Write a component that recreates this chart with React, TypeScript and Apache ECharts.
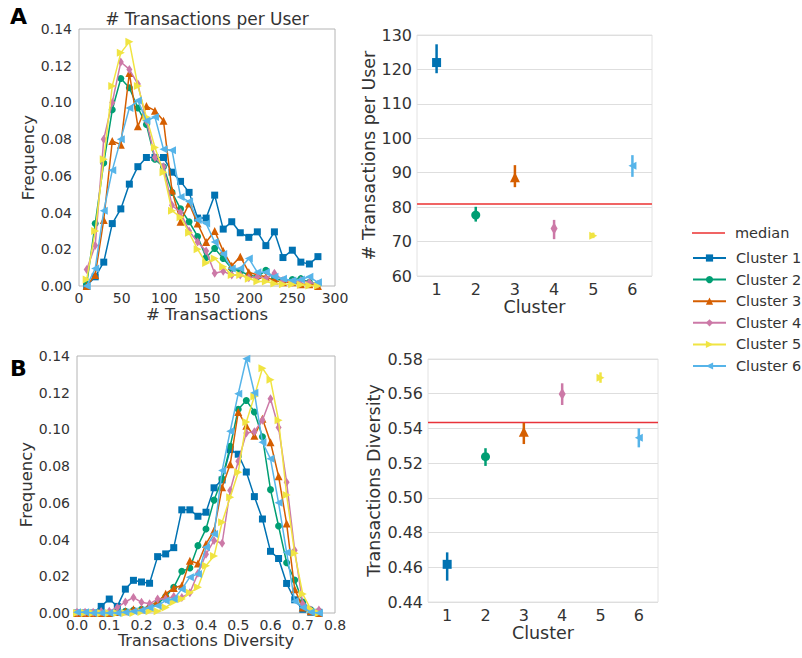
import React, { useEffect, useRef } from 'react';
import * as echarts from 'echarts';

const clusterNames = ['Cluster 1', 'Cluster 2', 'Cluster 3', 'Cluster 4', 'Cluster 5', 'Cluster 6'];
const clusterColors = ['#0072B2', '#009E73', '#D55E00', '#CC79A7', '#F0E442', '#56B4E9'];
const RIGHT_TRI = 'path://M0,0L10,5L0,10Z';
const LEFT_TRI = 'path://M10,0L0,5L10,10Z';
const clusterSymbols = ['rect', 'circle', 'triangle', 'diamond', RIGHT_TRI, LEFT_TRI];
const lineSymbolSizes: any[] = [7, 7, 8, [6, 9], 8, 8];
const pointSymbolSizes: any[] = [9, 9, 10, [7, 12], 8, 8];

// Panel A (left): # transactions histogram
const txBins = [9, 19, 29, 39, 49, 59, 69, 79, 89, 99, 109, 119, 129, 139, 149, 159, 169, 179, 189, 199, 209, 219, 229, 239, 250, 260, 270, 280];
const txFreq1 = [0.000, 0.005, 0.013, 0.034, 0.042, 0.0555, 0.065, 0.070, 0.070, 0.070, 0.062, 0.057, 0.051, 0.037, 0.037, 0.0495, 0.031, 0.035, 0.029, 0.0265, 0.0295, 0.022, 0.0295, 0.0155, 0.0195, 0.013, 0.012, 0.016];
const txFreq2 = [0.001, 0.034, 0.067, 0.096, 0.113, 0.108, 0.097, 0.088, 0.069, 0.065, 0.051, 0.042, 0.035, 0.027, 0.0155, 0.0205, 0.015, 0.0095, 0.008, 0.006, 0.005, 0.0085, 0.004, 0.003, 0.0035, 0.004, 0.002, 0.001];
const txFreq3 = [0.000, 0.006, 0.036, 0.079, 0.077, 0.116, 0.087, 0.098, 0.0955, 0.090, 0.052, 0.035, 0.045, 0.034, 0.024, 0.030, 0.019, 0.011, 0.016, 0.0075, 0.006, 0.005, 0.003, 0.002, 0.002, 0.001, 0.001, 0.000];
const txFreq4 = [0.009, 0.022, 0.080, 0.100, 0.122, 0.118, 0.110, 0.090, 0.070, 0.065, 0.044, 0.040, 0.030, 0.024, 0.019, 0.007, 0.008, 0.006, 0.006, 0.0045, 0.005, 0.004, 0.007, 0.003, 0.002, 0.003, 0.002, 0.001];
const txFreq5 = [0.0035, 0.030, 0.069, 0.109, 0.127, 0.133, 0.109, 0.092, 0.0755, 0.062, 0.041, 0.0375, 0.029, 0.020, 0.0125, 0.015, 0.0105, 0.006, 0.006, 0.004, 0.0025, 0.0025, 0.0013, 0.001, 0.001, 0.0007, 0.0003, 0.0002];
const txFreq6 = [0.000, 0.0095, 0.041, 0.063, 0.080, 0.097, 0.101, 0.090, 0.092, 0.0745, 0.074, 0.0485, 0.046, 0.036, 0.034, 0.024, 0.0175, 0.0095, 0.0095, 0.015, 0.0075, 0.0075, 0.005, 0.004, 0.003, 0.0035, 0.005, 0.002];

// Panel B (left): transactions diversity histogram
const divBins = [0, 0.025, 0.05, 0.075, 0.1, 0.125, 0.15, 0.175, 0.2, 0.225, 0.25, 0.275, 0.3, 0.325, 0.35, 0.375, 0.4, 0.425, 0.45, 0.475, 0.5, 0.525, 0.55, 0.575, 0.6, 0.625, 0.65, 0.675, 0.7, 0.725, 0.75];
const divFreq1 = [0, 0, 0, 0.0036, 0.0076, 0.0036, 0.013, 0.0178, 0.0169, 0.0162, 0.0307, 0.0322, 0.0356, 0.0562, 0.0562, 0.0527, 0.0549, 0.0682, 0.0725, 0.089, 0.0865, 0.0768, 0.0634, 0.0512, 0.0336, 0.0297, 0.0161, 0.0072, 0.002, 0.0004, 0.0004];
const divFreq2 = [0, 0, 0, 0, 0, 0.0005, 0.001, 0.0015, 0.002, 0.003, 0.005, 0.009, 0.014, 0.0227, 0.0245, 0.0367, 0.0458, 0.0615, 0.073, 0.0908, 0.111, 0.1158, 0.1095, 0.096, 0.0672, 0.0474, 0.0274, 0.018, 0.006, 0.0017, 0.0008];
const divFreq3 = [0, 0, 0, 0, 0, 0.0005, 0.001, 0.002, 0.002, 0.004, 0.006, 0.0105, 0.0136, 0.015, 0.0285, 0.027, 0.0376, 0.045, 0.0685, 0.081, 0.1095, 0.102, 0.0965, 0.1058, 0.093, 0.0745, 0.0487, 0.013, 0.003, 0.001, 0];
const divFreq4 = [0.0004, 0.0004, 0.0004, 0.0008, 0.001, 0.003, 0.006, 0.0085, 0.0058, 0.005, 0.0076, 0.0076, 0.009, 0.0085, 0.011, 0.0216, 0.032, 0.0395, 0.038, 0.0667, 0.0827, 0.098, 0.0988, 0.105, 0.1167, 0.101, 0.0712, 0.0342, 0.005, 0.0016, 0.0016];
const divFreq5 = [0, 0, 0, 0, 0, 0, 0, 0, 0.0005, 0.001, 0.001, 0.003, 0.006, 0.0076, 0.011, 0.014, 0.0258, 0.031, 0.0495, 0.063, 0.0767, 0.104, 0.118, 0.1333, 0.127, 0.105, 0.0643, 0.0325, 0.0103, 0.002, 0];
const divFreq6 = [0.0004, 0.0004, 0, 0, 0, 0, 0.0004, 0.001, 0.0015, 0.003, 0.004, 0.0067, 0.0076, 0.013, 0.0195, 0.0213, 0.0358, 0.043, 0.0776, 0.099, 0.1195, 0.1385, 0.12, 0.093, 0.084, 0.060, 0.033, 0.0064, 0.003, 0.0004, 0];

// Right panels: cluster means with error bars
const clusterLabels = ['1', '2', '3', '4', '5', '6'];
const txMean = [122.0, 77.7, 88.7, 73.8, 71.7, 92.0];
const txLow = [118.9, 75.8, 85.8, 70.7, 71.0, 88.8];
const txHigh = [127.3, 80.1, 92.2, 76.3, 72.6, 95.1];
const txMedian = 81;
const divMean = [0.4617, 0.5237, 0.5381, 0.5598, 0.5692, 0.5347];
const divLow = [0.4523, 0.5184, 0.5310, 0.5535, 0.5663, 0.5291];
const divHigh = [0.4686, 0.5286, 0.5433, 0.5660, 0.5723, 0.5400];
const divMedian = 0.5435;

const FONT = 'DejaVu Sans';
const TXT = '#333333';

export default function App() {
  const ref = useRef<HTMLDivElement>(null);
  useEffect(() => {
    if (!ref.current) return;
    const chart = echarts.init(ref.current, undefined, { renderer: 'svg' });
    const txFreqs = [txFreq1, txFreq2, txFreq3, txFreq4, txFreq5, txFreq6];
    const divFreqs = [divFreq1, divFreq2, divFreq3, divFreq4, divFreq5, divFreq6];

    const lineSeries = (freqs: number[][], bins: number[], axisIdx: number) =>
      freqs.map((f, k) => ({
        name: clusterNames[k],
        type: 'line',
        xAxisIndex: axisIdx,
        yAxisIndex: axisIdx,
        data: bins.map((x, i) => [x, f[i]]),
        symbol: clusterSymbols[k],
        symbolSize: lineSymbolSizes[k],
        showAllSymbol: true,
        color: clusterColors[k],
        itemStyle: { color: clusterColors[k] },
        lineStyle: { color: clusterColors[k], width: 1.5 },
        silent: true,
        z: 2 + k,
      }));

    const errorSeries = (low: number[], high: number[], axisIdx: number) => ({
      name: 'err' + axisIdx,
      type: 'custom',
      xAxisIndex: axisIdx,
      yAxisIndex: axisIdx,
      data: low.map((l, i) => [i, l, high[i]]),
      encode: { x: 0, y: [1, 2] },
      silent: true,
      z: 3,
      renderItem: (params: any, api: any) => {
        const i = api.value(0);
        const p1 = api.coord([i, api.value(1)]);
        const p2 = api.coord([i, api.value(2)]);
        return {
          type: 'line',
          shape: { x1: p1[0], y1: p1[1], x2: p2[0], y2: p2[1] },
          style: { stroke: clusterColors[params.dataIndex], lineWidth: 2.5 },
        };
      },
    });

    const meanSeries = (mean: number[], axisIdx: number, median: number, mColor: string, mWidth: number) => ({
      name: 'mean' + axisIdx,
      type: 'scatter',
      xAxisIndex: axisIdx,
      yAxisIndex: axisIdx,
      silent: true,
      z: 4,
      data: mean.map((v, i) => ({
        value: [i, v],
        symbol: clusterSymbols[i],
        symbolSize: pointSymbolSizes[i],
        itemStyle: { color: clusterColors[i], opacity: 1 },
      })),
      markLine: {
        silent: true,
        symbol: 'none',
        precision: 6,
        label: { show: false },
        lineStyle: { color: mColor, width: mWidth, type: 'solid' },
        data: [{ yAxis: median }],
        z: 2,
      },
    });

    const leftY = (idx: number) => ({
      type: 'value', gridIndex: idx, min: 0, max: 0.14, interval: 0.02,
      name: 'Frequency', nameLocation: 'middle', nameGap: idx === 0 ? 40 : 38,
      nameTextStyle: { fontFamily: FONT, fontSize: 16.5, color: TXT },
      axisLine: { show: false }, axisTick: { show: false }, splitLine: { show: false },
      axisLabel: { fontFamily: FONT, fontSize: 14, color: TXT, margin: 7, formatter: (v: number) => v.toFixed(2) },
    });

    const option: any = {
      animation: false,
      backgroundColor: '#ffffff',
      grid: [
        { left: 79, top: 29, width: 256, height: 257, show: true, borderColor: '#b4b4b4', borderWidth: 1 },
        { left: 417, top: 35, width: 235, height: 241, show: true, borderColor: '#e2e2e2', borderWidth: 1 },
        { left: 77, top: 356, width: 258, height: 257, show: true, borderColor: '#b4b4b4', borderWidth: 1 },
        { left: 428, top: 359, width: 230, height: 243, show: true, borderColor: '#e2e2e2', borderWidth: 1 },
      ],
      xAxis: [
        {
          type: 'value', gridIndex: 0, min: 0, max: 300, interval: 50,
          name: '# Transactions', nameLocation: 'middle', nameGap: 18,
          nameTextStyle: { fontFamily: FONT, fontSize: 16.5, color: TXT },
          axisLine: { show: false }, axisTick: { show: false }, splitLine: { show: false },
          axisLabel: { fontFamily: FONT, fontSize: 14, color: TXT, margin: 5 },
        },
        {
          type: 'category', gridIndex: 1, data: clusterLabels, boundaryGap: true,
          name: 'Cluster', nameLocation: 'middle', nameGap: 22,
          nameTextStyle: { fontFamily: FONT, fontSize: 17.5, color: TXT },
          axisLine: { show: false }, axisTick: { show: false }, splitLine: { show: false },
          axisLabel: { fontFamily: FONT, fontSize: 16, color: TXT, margin: 5 },
        },
        {
          type: 'value', gridIndex: 2, min: 0, max: 0.8, interval: 0.1,
          name: 'Transactions Diversity', nameLocation: 'middle', nameGap: 19,
          nameTextStyle: { fontFamily: FONT, fontSize: 16, color: TXT },
          axisLine: { show: false }, axisTick: { show: false }, splitLine: { show: false },
          axisLabel: { fontFamily: FONT, fontSize: 14, color: TXT, margin: 5, formatter: (v: number) => v.toFixed(1) },
        },
        {
          type: 'category', gridIndex: 3, data: clusterLabels, boundaryGap: true,
          name: 'Cluster', nameLocation: 'middle', nameGap: 22,
          nameTextStyle: { fontFamily: FONT, fontSize: 17.5, color: TXT },
          axisLine: { show: false }, axisTick: { show: false }, splitLine: { show: false },
          axisLabel: { fontFamily: FONT, fontSize: 16, color: TXT, margin: 5 },
        },
      ],
      yAxis: [
        leftY(0),
        {
          type: 'value', gridIndex: 1, min: 60, max: 130, interval: 10,
          name: '# Transactions per User', nameLocation: 'middle', nameGap: 39,
          nameTextStyle: { fontFamily: FONT, fontSize: 17.5, color: TXT },
          axisLine: { show: false }, axisTick: { show: false },
          splitLine: { show: true, lineStyle: { color: '#dedede', width: 1 } },
          axisLabel: { fontFamily: FONT, fontSize: 16, color: TXT, margin: 5 },
        },
        leftY(2),
        {
          type: 'value', gridIndex: 3, min: 0.44, max: 0.58, interval: 0.02,
          name: 'Transactions Diversity', nameLocation: 'middle', nameGap: 43,
          nameTextStyle: { fontFamily: FONT, fontSize: 17.5, color: TXT },
          axisLine: { show: false }, axisTick: { show: false },
          splitLine: { show: true, lineStyle: { color: '#dedede', width: 1 } },
          axisLabel: { fontFamily: FONT, fontSize: 16, color: TXT, margin: 5, formatter: (v: number) => v.toFixed(2) },
        },
      ],
      legend: [
        {
          data: ['median'], left: 692, top: 225, orient: 'vertical', padding: 0,
          icon: 'rect', itemWidth: 33, itemHeight: 2, selectedMode: false,
          textStyle: { fontFamily: FONT, fontSize: 14.5, color: TXT, lineHeight: 16, padding: [0, 0, 0, 5] },
        },
        {
          data: clusterNames, left: 692, top: 250, orient: 'vertical', padding: 0,
          itemWidth: 33, itemHeight: 9, itemGap: 5.6, selectedMode: false,
          textStyle: { fontFamily: FONT, fontSize: 14.5, color: TXT, lineHeight: 16, padding: [0, 0, 0, 5] },
        },
      ],
      graphic: [
        { type: 'text', left: 10, top: 5, style: { text: 'A', font: 'bold 22px "DejaVu Sans"', fill: '#000' } },
        { type: 'text', left: 10, top: 357, style: { text: 'B', font: 'bold 22px "DejaVu Sans"', fill: '#000' } },
        {
          type: 'text', x: 207, y: 19,
          style: { text: '# Transactions per User', font: '17px "DejaVu Sans"', fill: TXT, textAlign: 'center', textVerticalAlign: 'middle' },
        },
      ],
      series: [
        ...lineSeries(txFreqs, txBins, 0),
        ...lineSeries(divFreqs, divBins, 2),
        {
          name: 'median', type: 'line', xAxisIndex: 1, yAxisIndex: 1, data: [],
          color: '#f06464', itemStyle: { color: '#f06464' }, lineStyle: { color: '#f06464', width: 2 },
        },
        errorSeries(txLow, txHigh, 1),
        meanSeries(txMean, 1, txMedian, '#f06464', 2),
        errorSeries(divLow, divHigh, 3),
        meanSeries(divMean, 3, divMedian, '#e8333a', 1.3),
      ],
    };
    chart.setOption(option);
    return () => chart.dispose();
  }, []);
  return <div ref={ref} style={{ position: 'absolute', left: 0, top: 0, width: 802, height: 658 }} />;
}
